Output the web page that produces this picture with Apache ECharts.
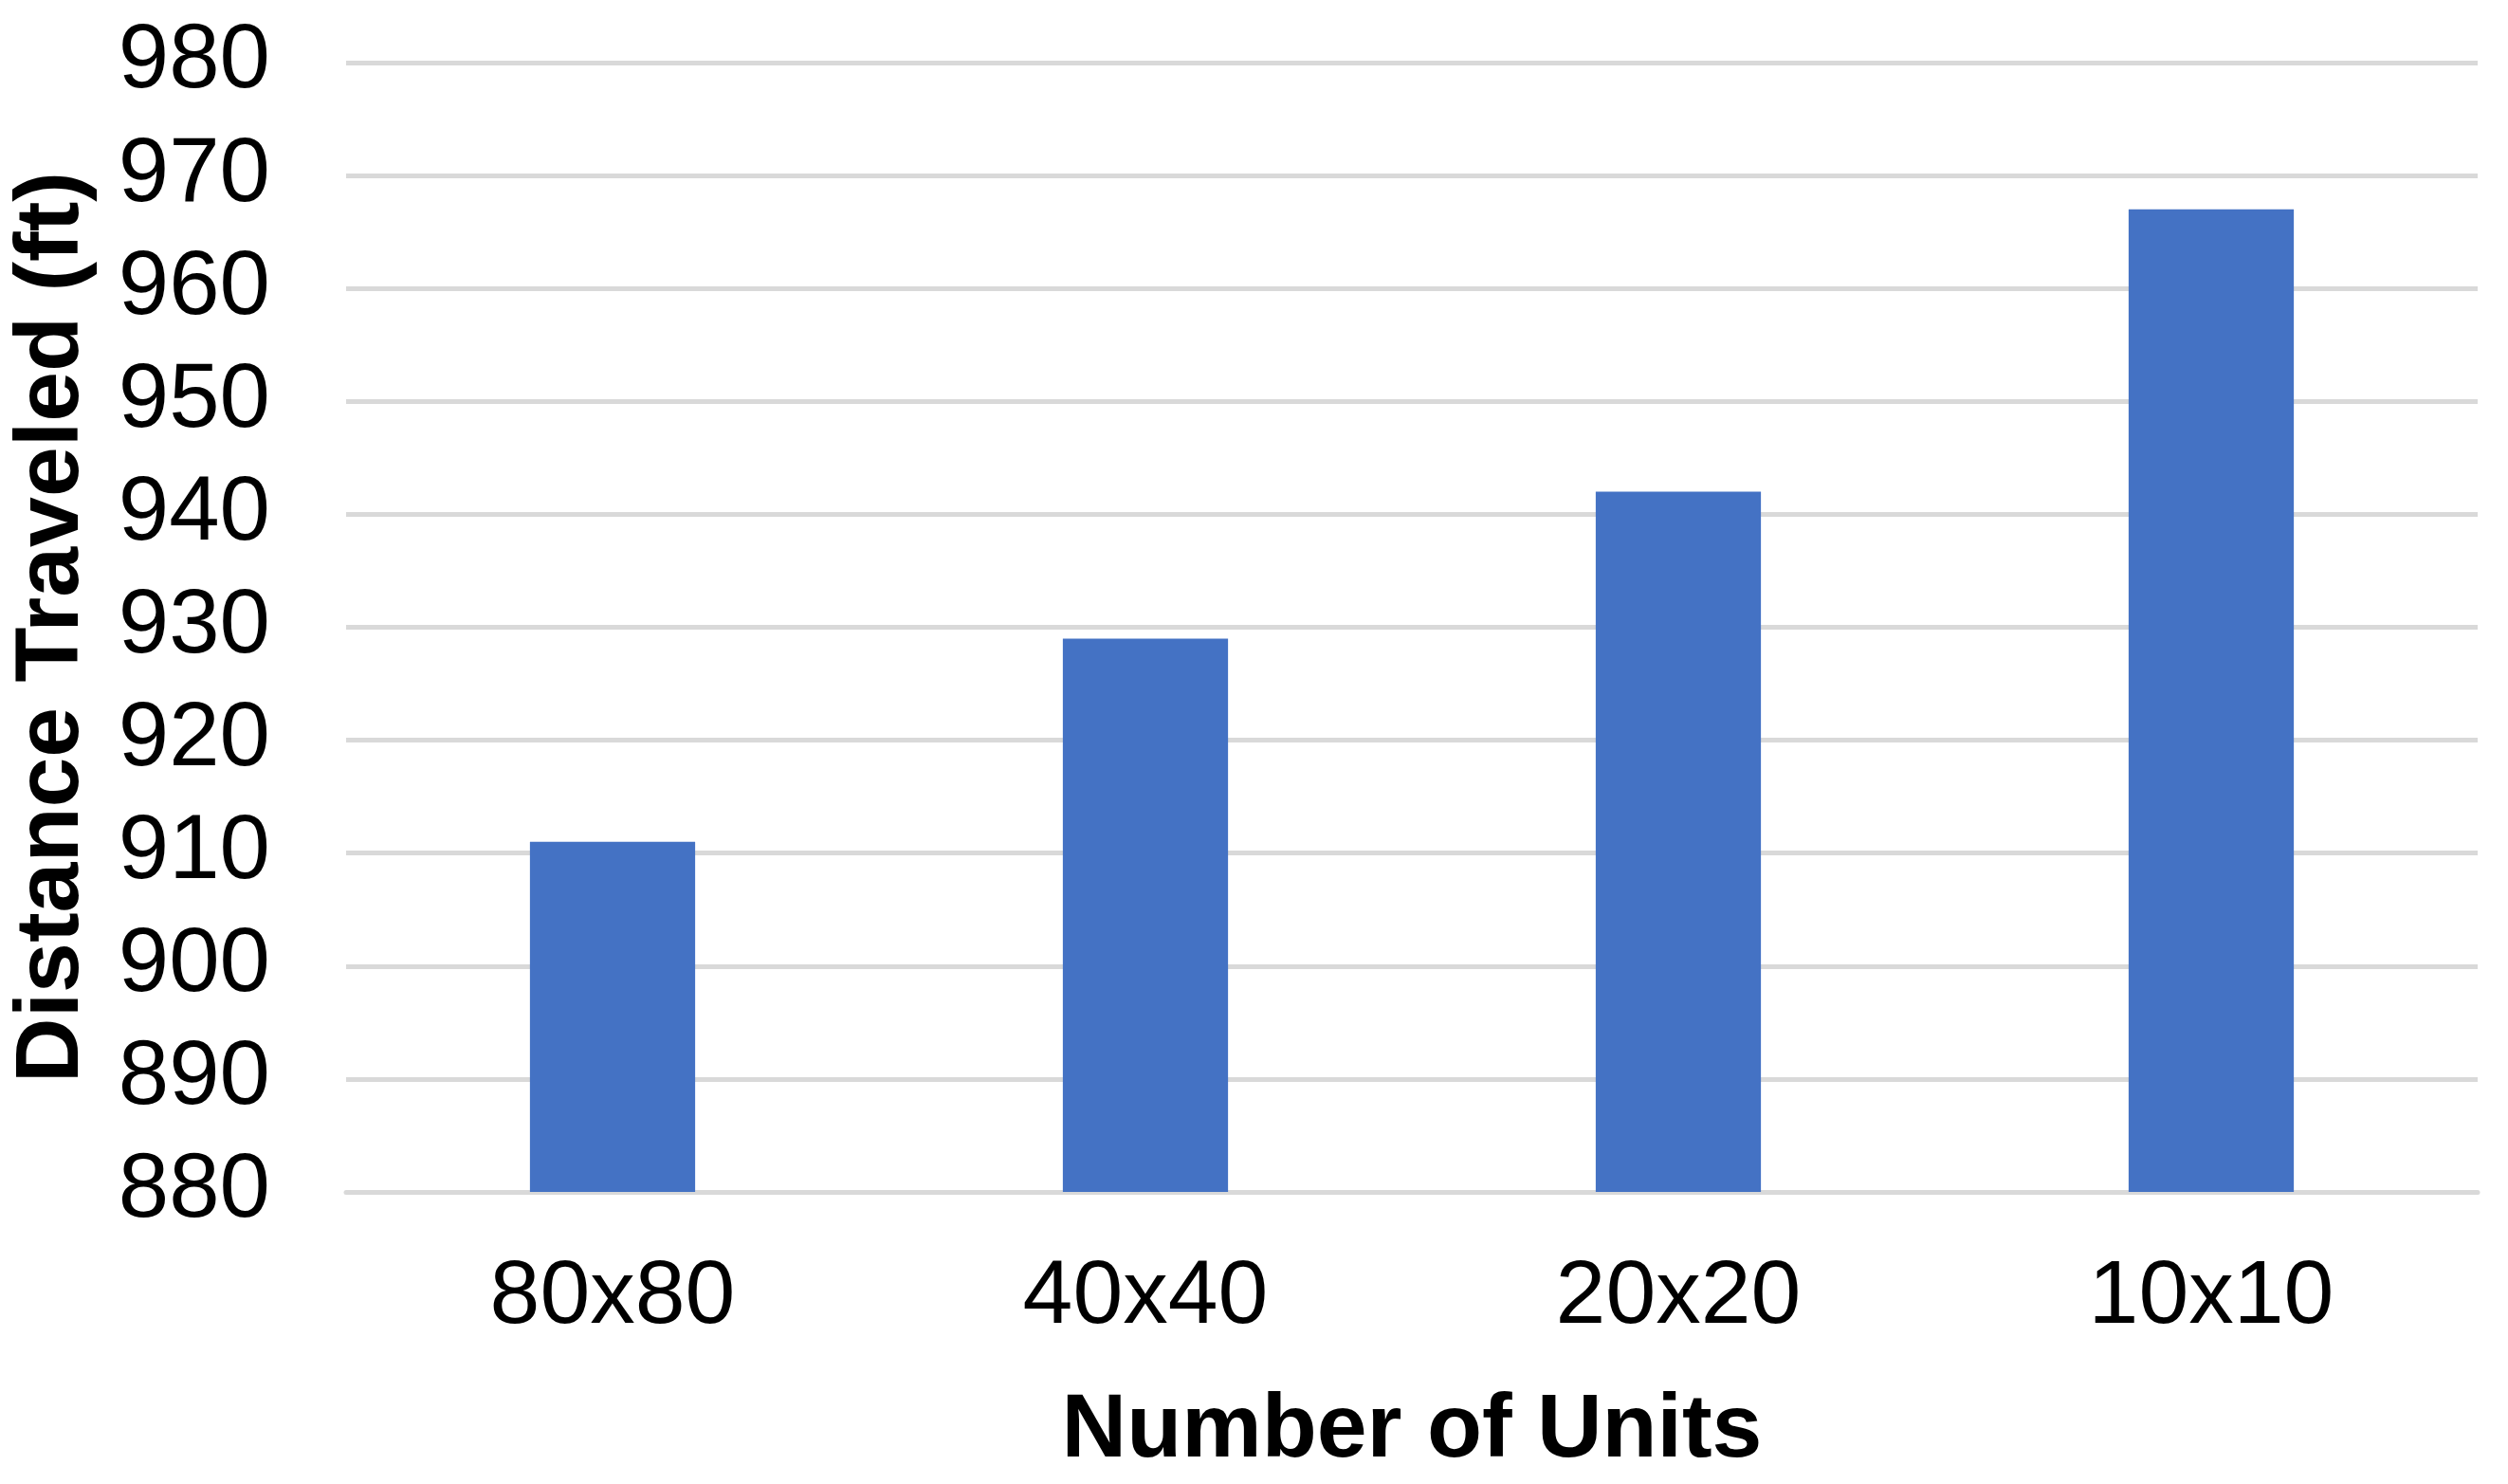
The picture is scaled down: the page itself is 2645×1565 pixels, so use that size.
<!DOCTYPE html>
<html><head><meta charset="utf-8">
<script src="https://cdn.jsdelivr.net/npm/echarts@6/dist/echarts.min.js"></script>
<style>html,body{margin:0;padding:0;background:#fff}#c{width:2645px;height:1565px}</style>
</head><body><div id="c"></div>
<script>
const categories = ['80x80','40x40','20x20','10x10'];
const values = [911, 929, 942, 967];
const yMin = 880, yMax = 980, yStep = 10;
const chart = echarts.init(document.getElementById('c'));
const font = '"Liberation Sans", Arial, sans-serif';
chart.setOption({
  animation:false,
  grid:{left:346, right:32, top:66, bottom:308},
  xAxis:{type:'category', data:categories,
    axisLine:{lineStyle:{color:'#d9d9d9', width:5}}, axisTick:{show:false},
    axisLabel:{color:'#000', fontSize:95, fontFamily:font, margin:64},
    name:'Number of Units', nameLocation:'middle', nameGap:205,
    nameTextStyle:{color:'#000', fontSize:95, fontWeight:'bold', fontFamily:font}},
  yAxis:{type:'value', min:yMin, max:yMax, interval:yStep,
    axisLine:{show:false}, axisTick:{show:false},
    splitLine:{lineStyle:{color:'#d9d9d9', width:5}},
    axisLabel:{color:'#000', fontSize:96, fontFamily:font, margin:80},
    name:'Distance Traveled (ft)', nameLocation:'middle', nameGap:262,
    nameTextStyle:{color:'#000', fontSize:95, fontWeight:'bold', fontFamily:font}},
  series:[{type:'bar', data:values, barWidth:'31%', itemStyle:{color:'#4472c4'}}]
});
</script></body></html>
